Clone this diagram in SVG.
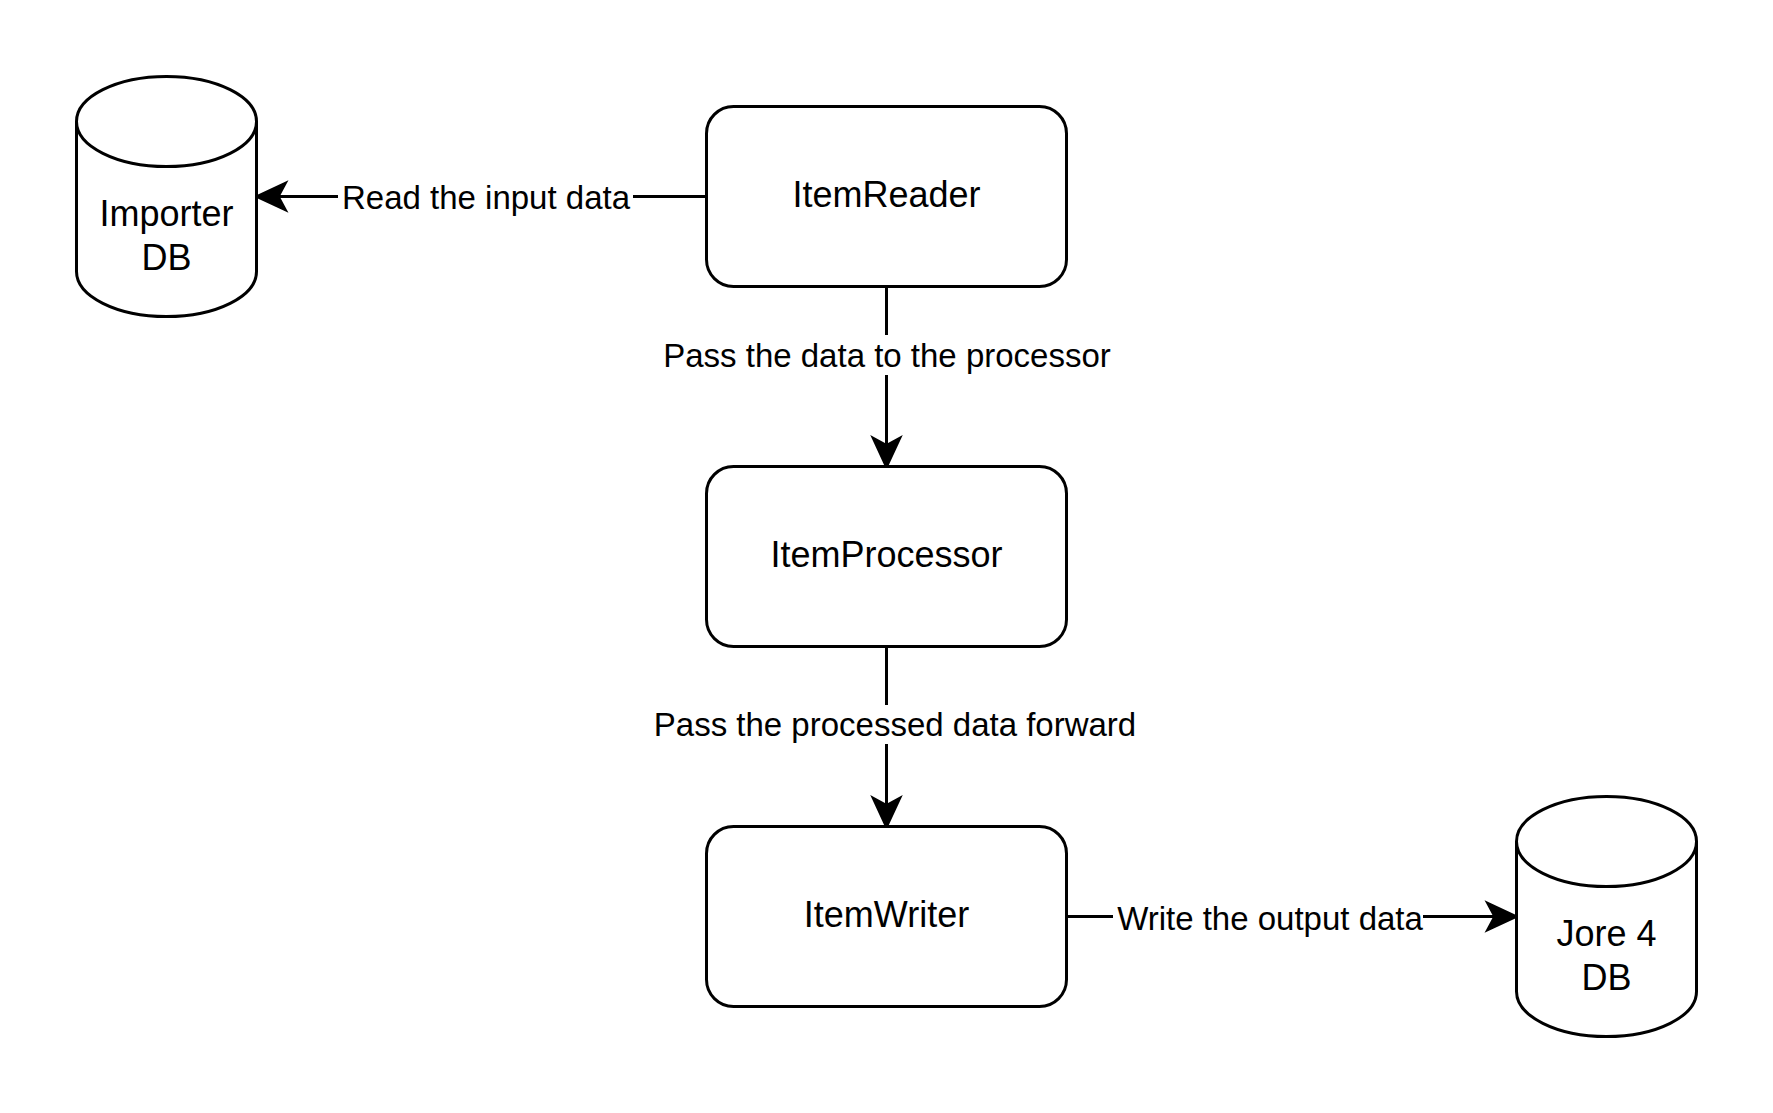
<svg xmlns="http://www.w3.org/2000/svg" width="1773" height="1113" viewBox="0 0 1773 1113">
<style>
.shape{fill:#ffffff;stroke:#000000;stroke-width:3}
.edge{fill:none;stroke:#000000;stroke-width:3}
.head{fill:#000000;stroke:#000000;stroke-width:3;stroke-linejoin:miter}
.lbl{font-family:"Liberation Sans",Arial,Helvetica,sans-serif;fill:#000000;text-anchor:middle}
.node{font-size:36px}
.elbl{font-size:33px}
</style>
<rect width="1773" height="1113" fill="#ffffff"/>
<g id="connectors">
  <path class="edge" d="M706.5,196.5 L278,196.5"/>
  <path class="head" d="M257,196.5 L285,183.5 L278,196.5 L285,209.5 Z"/>
  <rect x="338" y="180" width="295" height="34" fill="#ffffff"/>
  <text class="lbl elbl" x="486" y="209">Read the input data</text>

  <path class="edge" d="M886.5,286.5 L886.5,445.5"/>
  <path class="head" d="M886.5,466.5 L873.5,438.5 L886.5,445.5 L899.5,438.5 Z"/>
  <rect x="660" y="335" width="454" height="40" fill="#ffffff"/>
  <text class="lbl elbl" x="887" y="367">Pass the data to the processor</text>

  <path class="edge" d="M886.5,646.5 L886.5,805.5"/>
  <path class="head" d="M886.5,826.5 L873.5,798.5 L886.5,805.5 L899.5,798.5 Z"/>
  <rect x="651" y="705" width="488" height="39" fill="#ffffff"/>
  <text class="lbl elbl" x="895" y="736">Pass the processed data forward</text>

  <path class="edge" d="M1066.5,916.5 L1495,916.5"/>
  <path class="head" d="M1516,916.5 L1488,903.5 L1495,916.5 L1488,929.5 Z"/>
  <rect x="1113" y="900" width="310" height="34" fill="#ffffff"/>
  <text class="lbl elbl" x="1270" y="930">Write the output data</text>
</g>
<g id="importer-db">
  <path class="shape" d="M76.5,121.5 A90,45 0 0 1 256.5,121.5 L256.5,271.5 A90,45 0 0 1 76.5,271.5 Z"/>
  <path class="edge" d="M76.5,121.5 A90,45 0 0 0 256.5,121.5"/>
  <text class="lbl node" x="166.5" y="226">Importer</text>
  <text class="lbl node" x="166.5" y="270">DB</text>
</g>
<g id="item-reader">
  <rect class="shape" x="706.5" y="106.5" width="360" height="180" rx="27" ry="27"/>
  <text class="lbl node" x="886.5" y="207">ItemReader</text>
</g>
<g id="item-processor">
  <rect class="shape" x="706.5" y="466.5" width="360" height="180" rx="27" ry="27"/>
  <text class="lbl node" x="886.5" y="567">ItemProcessor</text>
</g>
<g id="item-writer">
  <rect class="shape" x="706.5" y="826.5" width="360" height="180" rx="27" ry="27"/>
  <text class="lbl node" x="886.5" y="927">ItemWriter</text>
</g>
<g id="jore4-db">
  <path class="shape" d="M1516.5,841.5 A90,45 0 0 1 1696.5,841.5 L1696.5,991.5 A90,45 0 0 1 1516.5,991.5 Z"/>
  <path class="edge" d="M1516.5,841.5 A90,45 0 0 0 1696.5,841.5"/>
  <text class="lbl node" x="1606.5" y="946">Jore 4</text>
  <text class="lbl node" x="1606.5" y="990">DB</text>
</g>
</svg>
